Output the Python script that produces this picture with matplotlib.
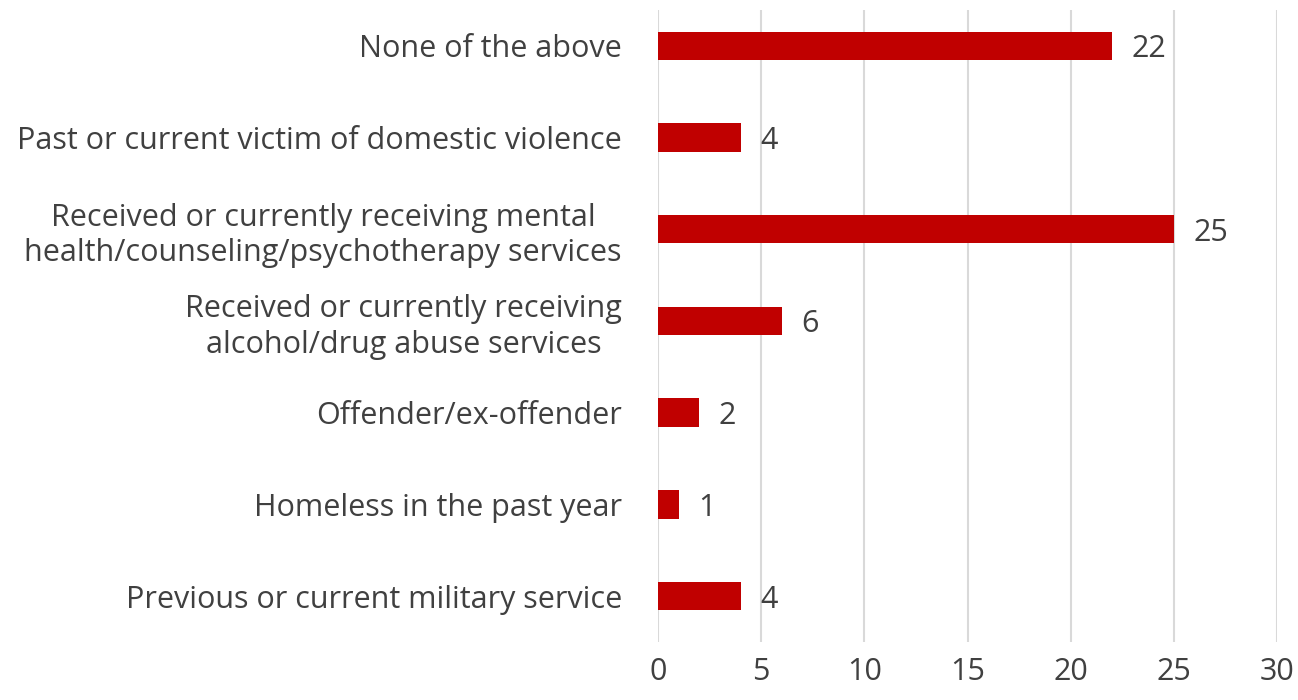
import matplotlib
matplotlib.use('Agg')
import matplotlib.pyplot as plt

plt.rcParams.update({
    'font.family': ['Open Sans', 'DejaVu Sans'],
    'font.size': 22,
    'text.color': '#404040',
    'xtick.color': '#404040',
    'ytick.color': '#404040',
})

categories = [
    'None of the above',
    'Past or current victim of domestic violence',
    'Received or currently receiving mental\nhealth/counseling/psychotherapy services',
    'Received or currently receiving\nalcohol/drug abuse services',
    'Offender/ex-offender',
    'Homeless in the past year',
    'Previous or current military service',
]
counts = [22, 4, 25, 6, 2, 1, 4]
x_ticks = [0, 5, 10, 15, 20, 25, 30]

BAR_COLOR = '#C00000'
GRID_COLOR = '#D9D9D9'

fig = plt.figure(figsize=(12.98, 7.0), dpi=100)
ax = fig.add_axes([658 / 1298, 58 / 700, (1277 - 658) / 1298, (642 - 10) / 700])

pos = list(range(len(categories)))
ax.barh(pos, counts, height=0.31, color=BAR_COLOR, zorder=3)

for y, v in zip(pos, counts):
    ax.annotate(str(v), xy=(v, y), xytext=(14, 0), textcoords='offset points',
                ha='left', va='center_baseline', fontsize=22, color='#404040')

ax.set_xlim(0, 30)
ax.set_ylim(6.5, -0.39)
ax.set_xticks(x_ticks)
ax.set_xticklabels([str(t) for t in x_ticks])
ax.set_yticks(pos)
ax.set_yticklabels(categories, multialignment='center', linespacing=1.25)

ax.xaxis.grid(True, color=GRID_COLOR, linewidth=1.5, zorder=0)
ax.set_axisbelow(True)
for s in ax.spines.values():
    s.set_visible(False)
ax.tick_params(axis='both', length=0)
ax.tick_params(axis='x', pad=10.5)
ax.tick_params(axis='y', pad=26)

fig.savefig('out.png', dpi=100)
